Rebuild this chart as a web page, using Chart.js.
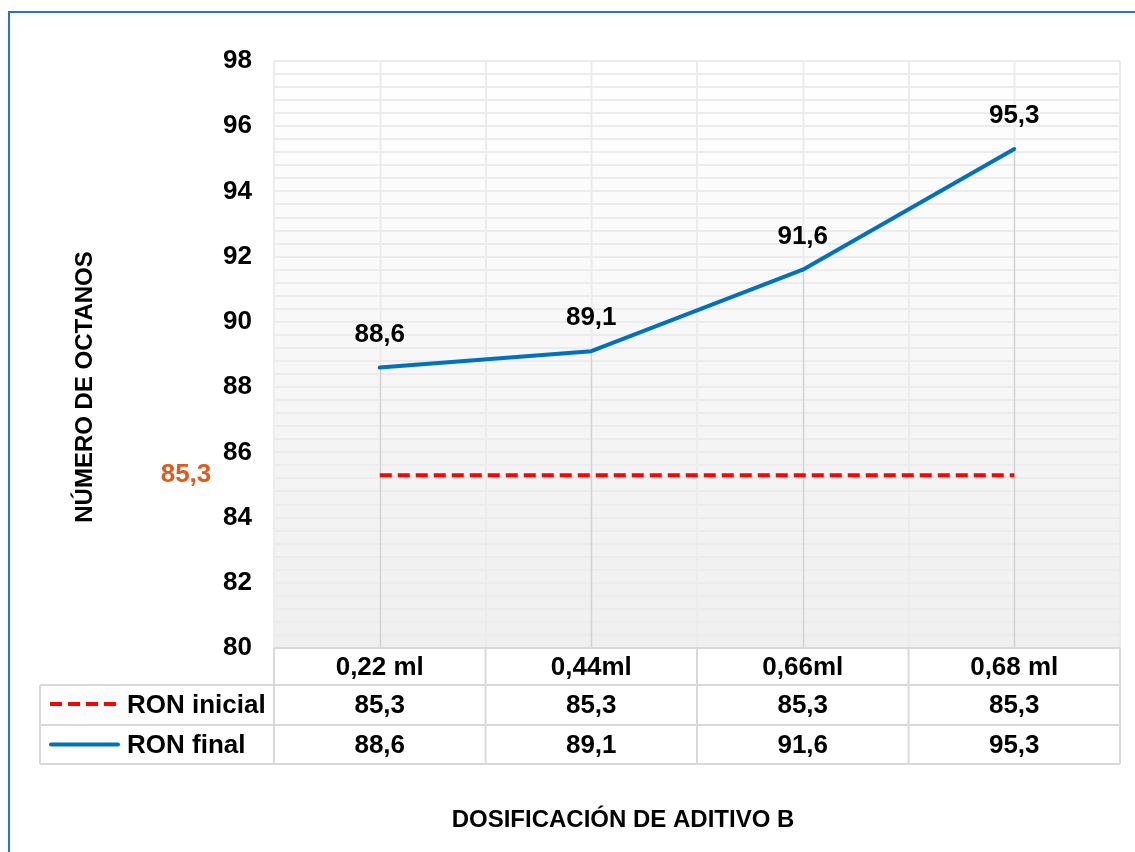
<!DOCTYPE html>
<html>
<head>
<meta charset="utf-8">
<script src="https://cdn.jsdelivr.net/npm/chart.js@4/dist/chart.umd.min.js"></script>
<style>
  html, body { margin: 0; padding: 0; background: #ffffff; }
  #wrap { width: 1135px; height: 852px; }
</style>
</head>
<body>
<div id="wrap"><canvas id="chart" width="1135" height="852"></canvas></div>
<script>
// Dosage categories and octane readings
const categories = ['0,22 ml', '0,44ml', '0,66ml', '0,68 ml'];
const ronInicial = [85.3, 85.3, 85.3, 85.3];
const ronFinal = [88.6, 89.1, 91.6, 95.3];
const seriesNames = ['RON inicial', 'RON final'];

// Axis range, labelled tick step and minor grid step
const yMin = 80;
const yMax = 98;
const yLabelStep = 2;
const yGridStep = 0.4;

const FONT = '"Liberation Sans", Arial, sans-serif';
const NUM_SIZE = 26;
const TITLE_SIZE = 24;
const BLUE = '#0070C0';
const RED = '#FF0000';
const ORANGE = '#DE5A1F';
const GRID = '#ececec';
const TABLE_LINE = '#d9d9d9';

const fmt = v => v.toFixed(1).replace('.', ',');

const decorPlugin = {
  id: 'decor',
  beforeDraw(chart) {
    const { ctx, chartArea: a } = chart;
    ctx.save();
    ctx.fillStyle = '#ffffff';
    ctx.fillRect(0, 0, chart.width, chart.height);
    // plot area shading
    const g = ctx.createLinearGradient(0, a.top, 0, a.bottom);
    g.addColorStop(0, '#ffffff');
    g.addColorStop(1, '#efefef');
    ctx.fillStyle = g;
    ctx.fillRect(a.left, a.top, a.right - a.left, a.bottom - a.top);
    // outer frame
    ctx.strokeStyle = '#2E75B6';
    ctx.lineWidth = 2;
    ctx.strokeRect(9, 12, 2000, 2000);
    ctx.restore();
  },
  beforeDatasetsDraw(chart) {
    const { ctx, chartArea: a, scales: { x, y } } = chart;
    ctx.save();
    categories.forEach((c, i) => {
      const px = Math.round(x.getPixelForValue(i)) + 0.5;
      const top = y.getPixelForValue(ronFinal[i]);
      // light centre gridline above the point
      ctx.strokeStyle = GRID;
      ctx.lineWidth = 2;
      ctx.beginPath();
      ctx.moveTo(px, a.top);
      ctx.lineTo(px, top);
      ctx.stroke();
      // drop line from the highest series down to the axis
      ctx.strokeStyle = '#d2d2d2';
      ctx.lineWidth = 1.5;
      ctx.beginPath();
      ctx.moveTo(px, top);
      ctx.lineTo(px, a.bottom);
      ctx.stroke();
    });
    ctx.restore();
  },
  afterDatasetsDraw(chart) {
    const { ctx, chartArea: a, scales: { x, y } } = chart;
    ctx.save();
    ctx.font = 'bold ' + NUM_SIZE + 'px ' + FONT;
    ctx.textAlign = 'center';
    ctx.textBaseline = 'middle';
    ctx.fillStyle = '#000000';
    ronFinal.forEach((v, i) => {
      ctx.fillText(fmt(v), x.getPixelForValue(i), y.getPixelForValue(v) - 33);
    });
    // label for the initial value, placed beside the axis
    ctx.fillStyle = ORANGE;
    ctx.fillText(fmt(ronInicial[0]), a.left - 88, y.getPixelForValue(ronInicial[0]));
    ctx.restore();
  },
  afterDraw(chart) {
    const { ctx, chartArea: a, scales: { x } } = chart;
    const rows = [a.bottom, 685, 725, 764];
    const legendLeft = 40;
    const half = (x.getPixelForValue(1) - x.getPixelForValue(0)) / 2;
    ctx.save();
    ctx.strokeStyle = TABLE_LINE;
    ctx.lineWidth = 2;
    // horizontal rules
    ctx.beginPath();
    ctx.moveTo(a.left, rows[0]); ctx.lineTo(a.right, rows[0]);
    for (let r = 1; r < rows.length; r++) {
      ctx.moveTo(legendLeft, rows[r]); ctx.lineTo(a.right, rows[r]);
    }
    // vertical rules
    ctx.moveTo(legendLeft, rows[1]); ctx.lineTo(legendLeft, rows[3]);
    ctx.moveTo(a.left, rows[0]); ctx.lineTo(a.left, rows[3]);
    categories.forEach((c, i) => {
      const bx = x.getPixelForValue(i) + half;
      ctx.moveTo(bx, rows[0]); ctx.lineTo(bx, rows[3]);
    });
    ctx.stroke();

    ctx.font = 'bold ' + NUM_SIZE + 'px ' + FONT;
    ctx.fillStyle = '#000000';
    ctx.textAlign = 'center';
    ctx.textBaseline = 'middle';
    const seriesRows = [ronInicial, ronFinal];
    categories.forEach((c, i) => {
      const cx = x.getPixelForValue(i);
      ctx.fillText(c, cx, (rows[0] + rows[1]) / 2 + 1);
      seriesRows.forEach((s, r) => {
        ctx.fillText(fmt(s[i]), cx, (rows[r + 1] + rows[r + 2]) / 2 + 1);
      });
    });

    // legend keys
    ctx.lineWidth = 4;
    const y1 = (rows[1] + rows[2]) / 2 - 1;
    const y2 = (rows[2] + rows[3]) / 2;
    ctx.strokeStyle = RED;
    ctx.setLineDash([12, 6]);
    ctx.beginPath(); ctx.moveTo(50, y1); ctx.lineTo(118, y1); ctx.stroke();
    ctx.setLineDash([]);
    ctx.strokeStyle = BLUE;
    ctx.lineCap = 'round';
    ctx.beginPath(); ctx.moveTo(51, y2); ctx.lineTo(118, y2); ctx.stroke();
    ctx.textAlign = 'left';
    ctx.fillText(seriesNames[0], 127, y1 + 2);
    ctx.fillText(seriesNames[1], 127, y2 + 1);

    // axis titles
    ctx.font = 'bold ' + TITLE_SIZE + 'px ' + FONT;
    ctx.textAlign = 'center';
    ctx.fillText('DOSIFICACIÓN DE ADITIVO B', 623, 820);
    ctx.translate(85, 387);
    ctx.rotate(-Math.PI / 2);
    ctx.fillText('NÚMERO DE OCTANOS', 0, 0);
    ctx.restore();
  }
};

new Chart(document.getElementById('chart'), {
  type: 'line',
  data: {
    labels: categories,
    datasets: [
      {
        label: seriesNames[0],
        data: ronInicial,
        borderColor: RED,
        borderWidth: 4,
        borderDash: [12, 6],
        pointRadius: 0,
        fill: false
      },
      {
        label: seriesNames[1],
        data: ronFinal,
        borderColor: BLUE,
        borderWidth: 4,
        borderCapStyle: 'round',
        borderJoinStyle: 'round',
        pointRadius: 0,
        fill: false
      }
    ]
  },
  options: {
    responsive: false,
    devicePixelRatio: 1,
    animation: false,
    layout: { padding: { left: 0, right: 15, top: 61, bottom: 0 } },
    plugins: { legend: { display: false }, tooltip: { enabled: false }, title: { display: false } },
    scales: {
      x: {
        offset: true,
        grid: { offset: true, color: GRID, lineWidth: 2, drawTicks: false },
        border: { display: false },
        ticks: { display: false },
        afterFit(s) { s.height = 204; }
      },
      y: {
        min: yMin,
        max: yMax,
        grid: { color: GRID, lineWidth: 2, drawTicks: false },
        border: { display: false },
        ticks: {
          stepSize: yGridStep,
          autoSkip: false,
          padding: 22,
          color: '#000000',
          font: { family: FONT, size: NUM_SIZE, weight: 'bold' },
          callback(v) {
            const k = (v - yMin) / yLabelStep;
            return Math.abs(k - Math.round(k)) < 1e-6 ? String(Math.round(v)) : '';
          }
        },
        afterFit(s) { s.width = 274; }
      }
    }
  },
  plugins: [decorPlugin]
});
</script>
</body>
</html>
